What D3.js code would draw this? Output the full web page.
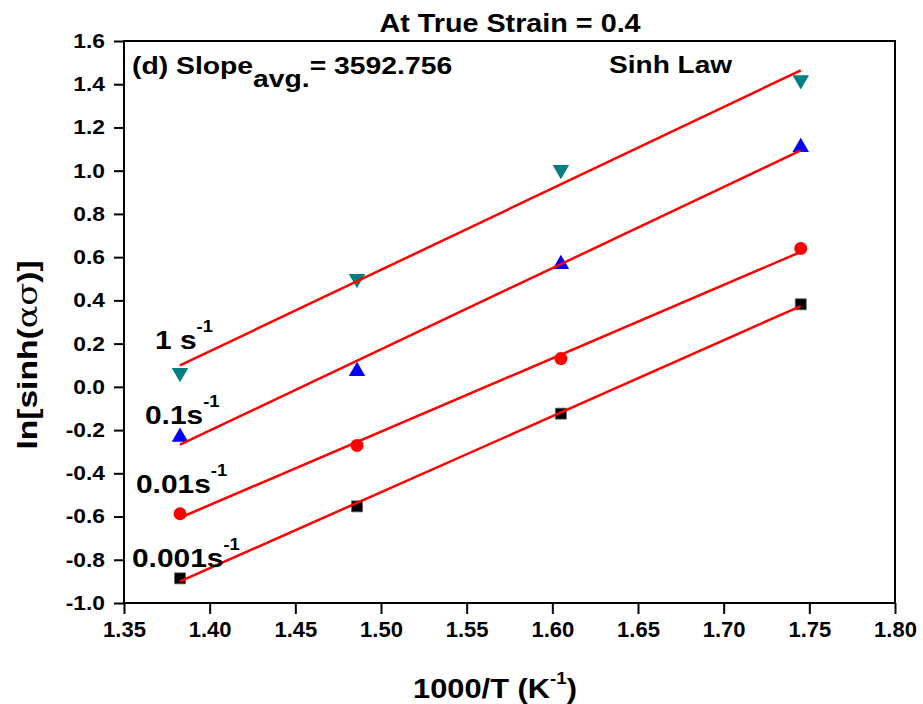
<!DOCTYPE html>
<html><head><meta charset="utf-8">
<script src="https://cdn.jsdelivr.net/npm/d3@7"></script>
<style>
body{margin:0;background:#fff}
svg{display:block}
text{font-family:"Liberation Sans",Arial,sans-serif;font-weight:bold;fill:#000}
</style>
</head><body>
<svg id="c" width="923" height="704"></svg>
<script>
// ---- data ----
const invT = [1.3827, 1.486, 1.605, 1.745];
const rateLabels = ["0.001s", "0.01s", "0.1s", "1 s"];
const y0001 = [-0.886, -0.553, -0.124, 0.382];
const y001  = [-0.587, -0.271, 0.131, 0.640];
const y01   = [-0.232, 0.072, 0.567, 1.108];
const y1    = [0.065, 0.500, 1.004, 1.420];
const xTicks = [1.35, 1.40, 1.45, 1.50, 1.55, 1.60, 1.65, 1.70, 1.75, 1.80];
const yTicks = [-1.0, -0.8, -0.6, -0.4, -0.2, 0.0, 0.2, 0.4, 0.6, 0.8, 1.0, 1.2, 1.4, 1.6];
const titleText = "At True Strain = 0.4";
const slopeAvg = "3592.756";

// ---- layout ----
const svg = d3.select("#c");
const L = 124, R = 895, T = 41, B = 603;
const x = d3.scaleLinear().domain([1.35, 1.80]).range([L, R]);
const y = d3.scaleLinear().domain([-1.0, 1.6]).range([B, T]);

const series = [
  {vals: y0001, label: rateLabels[0], color: "#000000", sym: d3.symbolSquare, size: 121, rot: 0, stroke: "#666", lx: 132, ly: 567},
  {vals: y001,  label: rateLabels[1], color: "#ff0000", sym: d3.symbolCircle, size: 133, rot: 0, stroke: "none", lx: 136, ly: 493},
  {vals: y01,   label: rateLabels[2], color: "#0000ff", sym: d3.symbolTriangle, size: 118, rot: 0, stroke: "none", lx: 145, ly: 424},
  {vals: y1,    label: rateLabels[3], color: "#008080", sym: d3.symbolTriangle, size: 118, rot: 180, stroke: "none", lx: 155, ly: 349}
];
const hy = s => s.replace("\u2212", "-");

// axes
const xAxis = d3.axisBottom(x).tickValues(xTicks).tickFormat(d3.format(".2f")).tickSize(11).tickSizeOuter(0).tickPadding(7);
const gx = svg.append("g").attr("transform", `translate(0,${B})`).call(xAxis);
gx.select(".domain").remove();
gx.selectAll(".tick line").attr("stroke", "#000").attr("stroke-width", 2);
gx.selectAll(".tick text").attr("font-size", 22).attr("font-family", '"Liberation Sans",Arial,sans-serif').attr("font-weight", "bold");

const yAxis = d3.axisLeft(y).tickValues(yTicks).tickFormat(d => hy(d3.format(".1f")(d))).tickSize(10).tickSizeOuter(0).tickPadding(8);
const gy = svg.append("g").attr("transform", `translate(${L},0)`).call(yAxis);
gy.select(".domain").remove();
gy.selectAll(".tick line").attr("stroke", "#000").attr("stroke-width", 2);
gy.selectAll(".tick text").attr("font-size", 20).attr("font-family", '"Liberation Sans",Arial,sans-serif').attr("font-weight", "bold")
  .attr("x", -19 / 1.14).attr("transform", "scale(1.14,1)");

// frame
svg.append("rect").attr("x", L).attr("y", T).attr("width", R - L).attr("height", B - T)
  .attr("fill", "none").attr("stroke", "#000").attr("stroke-width", 2);

// markers
series.forEach(s => {
  svg.append("g").selectAll("path").data(invT.map((t, i) => [t, s.vals[i]])).join("path")
    .attr("d", d3.symbol().type(s.sym).size(s.size))
    .attr("transform", d => `translate(${x(d[0])},${y(d[1])}) rotate(${s.rot})`)
    .attr("fill", s.color).attr("stroke", s.stroke).attr("stroke-width", 0.8);
});

// linear fits
function fit(xs, ys) {
  const mx = d3.mean(xs), my = d3.mean(ys);
  let num = 0, den = 0;
  xs.forEach((v, i) => { num += (v - mx) * (ys[i] - my); den += (v - mx) * (v - mx); });
  const b = num / den, a = my - b * mx;
  return v => a + b * v;
}
const line = d3.line().x(d => x(d[0])).y(d => y(d[1]));
series.forEach(s => {
  const f = fit(invT, s.vals);
  const x0 = d3.min(invT), x1 = d3.max(invT);
  svg.append("path").datum([[x0, f(x0)], [x1, f(x1)]]).attr("d", line)
    .attr("fill", "none").attr("stroke", "#ff0000").attr("stroke-width", 2.5);
});

// rate labels
series.forEach(s => {
  const t = svg.append("text").attr("transform", `translate(${s.lx},${s.ly}) scale(1.15,1)`).attr("font-size", 26);
  t.append("tspan").text(s.label);
  t.append("tspan").attr("font-size", 16).attr("dy", -17).text("-1");
});

// title
svg.append("text").attr("transform", `translate(510,32) scale(1.15,1)`).attr("text-anchor", "middle")
  .attr("font-size", 25).text(titleText);

// slope annotation
const st = svg.append("text").attr("transform", `translate(132,74) scale(1.18,1)`).attr("font-size", 24);
st.append("tspan").text("(d) Slope");
st.append("tspan").attr("dy", 13).text("avg.");
st.append("tspan").attr("dy", -13).text("= " + slopeAvg);

// Sinh Law
svg.append("text").attr("transform", `translate(609,73) scale(1.17,1)`).attr("font-size", 24).text("Sinh Law");

// y label
const yl = svg.append("text").attr("transform", `translate(37,355) rotate(-90) scale(1.2,1)`)
  .attr("text-anchor", "middle").attr("font-size", 28);
yl.append("tspan").text("ln[sinh(");
yl.append("tspan").attr("font-weight", "normal").attr("font-family", '"DejaVu Serif",serif').text("ασ");
yl.append("tspan").text(")]");

// x label
const xl = svg.append("text").attr("transform", `translate(495,698) scale(1.1,1)`)
  .attr("text-anchor", "middle").attr("font-size", 28);
xl.append("tspan").text("1000/T (K");
xl.append("tspan").attr("font-size", 17).attr("dy", -14).text("-1");
xl.append("tspan").attr("dy", 14).text(")");
</script>
</body></html>
